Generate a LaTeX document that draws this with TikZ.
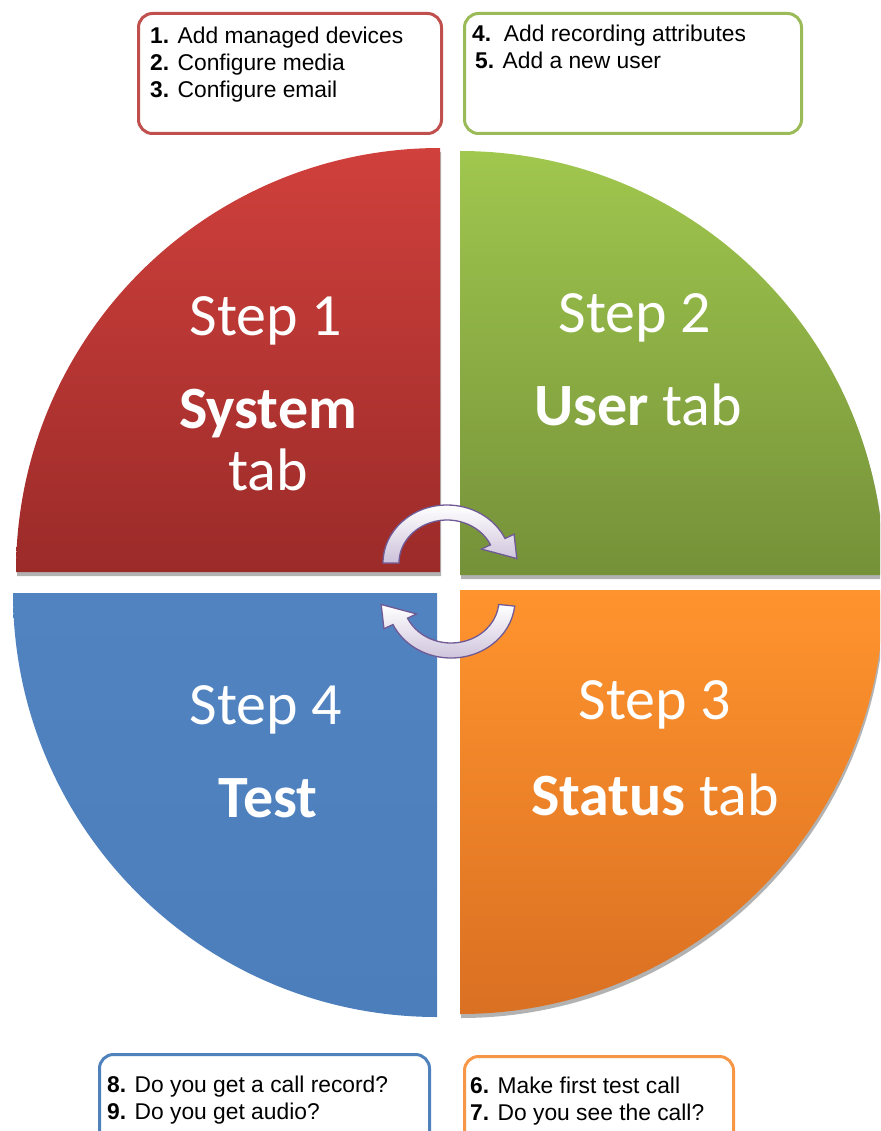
\documentclass[tikz,border=0pt]{standalone}
\usepackage{fontspec}
\setmainfont{Carlito}
\newfontfamily\notefont{Liberation Sans}
\usetikzlibrary{calc}
\definecolor{sysred}{RGB}{192,80,77}
\definecolor{redtop}{RGB}{208,64,60}
\definecolor{redbot}{RGB}{155,43,41}
\definecolor{usergreen}{RGB}{155,187,89}
\definecolor{greentop}{RGB}{160,199,78}
\definecolor{greenbot}{RGB}{117,145,57}
\definecolor{statorange}{RGB}{247,150,70}
\definecolor{orangetop}{RGB}{255,148,46}
\definecolor{orangebot}{RGB}{218,112,34}
\definecolor{testblue}{RGB}{79,129,189}
\definecolor{bluetop}{RGB}{80,131,192}
\definecolor{bluebot}{RGB}{76,126,188}
\definecolor{lavender}{RGB}{204,193,218}
\definecolor{plum}{RGB}{112,90,150}

\begin{document}
\begin{tikzpicture}[x=1pt, y=1pt,
  notebox/.style={draw, line width=3pt, rounded corners=14pt, fill=white, anchor=north west, inner sep=0pt},
  notetext/.style={anchor=north west, align=left, inner sep=0pt, font=\notefont\fontsize{22.8}{27}\selectfont},
  steptext/.style={text=white, anchor=base, inner sep=0pt, font=\fontsize{60}{62}\selectfont},
  turnarrow/.style={draw=plum, line width=1.3pt, top color=white, bottom color=lavender}]
  \useasboundingbox (0,0) rectangle (880,-1131);
  \clip (0,0) rectangle (880,-1131);
  % four quarters: centre, start angle, colours, shadow
  \foreach \cx/\cy/\sa/\ct/\cb/\sh in {440/-572/90/redtop/redbot/1, 460/-575/0/greentop/greenbot/1,
      437/-593/180/bluetop/bluebot/0, 460/-590/270/orangetop/orangebot/1}{
    \ifnum\sh=1
      \fill[black!30, shift={(1,-4)}] (\cx,\cy) -- ++(\sa:424) arc[start angle=\sa, delta angle=90, radius=424] -- cycle;
    \fi
    \shade[top color=\ct, bottom color=\cb] (\cx,\cy) -- ++(\sa:424) arc[start angle=\sa, delta angle=90, radius=424] -- cycle;
  }
  % labels
  \node[steptext] (step1) at (266,-335) {Step 1};
  \node[steptext] (sys) at (268,-428) {\textbf{System}};
  \node[steptext] (systab) at (268,-490) {tab};
  \node[steptext] (step2) at (635,-332) {Step 2};
  \node[steptext] (user) at (638,-425) {\textbf{User} tab};
  \node[steptext] (step4) at (266,-724) {Step 4};
  \node[steptext] (test) at (268,-817) {\textbf{Test}};
  \node[steptext] (step3) at (655,-719) {Step 3};
  \node[steptext] (status) at (655,-815) {\textbf{Status} tab};
  % turning arrows
  \coordinate (upc) at (447,-563);
  \coordinate (loc) at (451,-600);
  \draw[turnarrow] ($(upc)+(180:64 and 58)$) arc[start angle=180, end angle=25, x radius=64, y radius=58]
    -- ($(upc)+(25:74 and 68)$) -- ($(upc)+(4:70 and 64)$) -- ($(upc)+(25:38 and 33)$)
    -- ($(upc)+(25:48 and 43)$) arc[start angle=25, end angle=180, x radius=48, y radius=43] -- cycle;
  \draw[turnarrow] ($(loc)+(-6:64 and 58)$) arc[start angle=-6, end angle=-155, x radius=64, y radius=58]
    -- ($(loc)+(-155:74 and 68)$) -- ($(loc)+(-176:70 and 64)$) -- ($(loc)+(-155:38 and 33)$)
    -- ($(loc)+(-155:48 and 43)$) arc[start angle=-155, end angle=-6, x radius=48, y radius=43] -- cycle;
  % task boxes
  \node[notebox, draw=sysred, minimum width=303, minimum height=120] (sysbox) at (137,-12) {};
  \node[notetext] (systasks) at (150,-27) {\textbf{1.} Add managed devices\\\textbf{2.} Configure media\\\textbf{3.} Configure email};
  \node[notebox, draw=usergreen, minimum width=337, minimum height=120] (userbox) at (463,-12) {};
  \node[notetext] (usertasks) at (472,-25) {\textbf{4.}\ \ Add recording attributes\\\hspace*{3pt}\textbf{5.} Add a new user};
  \node[notebox, draw=testblue, minimum width=330, minimum height=120] (testbox) at (98,-1053) {};
  \node[notetext] (testtasks) at (107,-1076) {\textbf{8.} Do you get a call record?\\\textbf{9.} Do you get audio?};
  \node[notebox, draw=statorange, minimum width=269, minimum height=120] (statbox) at (463,-1055) {};
  \node[notetext] (stattasks) at (470,-1077) {\textbf{6.} Make first test call\\\textbf{7.} Do you see the call?};
\end{tikzpicture}
\end{document}
